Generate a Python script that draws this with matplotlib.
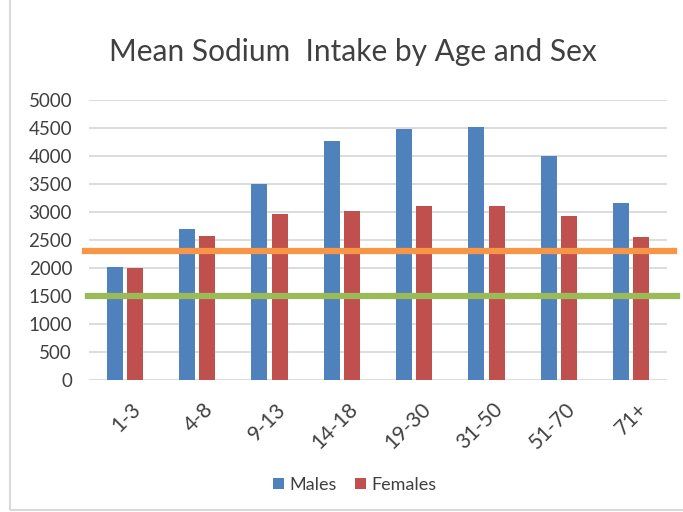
import matplotlib
matplotlib.use('Agg')
import matplotlib.pyplot as plt
import matplotlib.patches as patches
import matplotlib.transforms as mtransforms
import numpy as np

# Mean sodium intake (mg/day)
age_groups = ['1-3', '4-8', '9-13', '14-18', '19-30', '31-50', '51-70', '71+']
males = [2020, 2690, 3490, 4270, 4480, 4510, 4000, 3160]
females = [1995, 2575, 2960, 3020, 3105, 3105, 2920, 2555]
upper_limit = 2300   # orange reference line
adequate_intake = 1500  # green reference line

plt.rcParams['font.family'] = ['Lato', 'DejaVu Sans']

fig = plt.figure(figsize=(6.83, 5.12), dpi=100)
ax = fig.add_axes([0.130, 0.258, 0.847, 0.547])

x = np.arange(len(age_groups))
w = 0.22
ax.bar(x - 0.14, males, w, color='#4F81BD', label='Males', zorder=3)
ax.bar(x + 0.14, females, w, color='#C0504D', label='Females', zorder=3)

ax.set_xlim(-0.5, len(age_groups) - 0.5)
ax.set_ylim(0, 5000)
ax.set_yticks(range(0, 5001, 500))
ax.yaxis.grid(True, color='#D9D9D9', linewidth=1.3, zorder=0)
ax.set_axisbelow(True)
for s in ax.spines.values():
    s.set_visible(False)
ax.tick_params(axis='y', length=0, labelsize=13.5, labelcolor='#404040', pad=12)
ax.tick_params(axis='x', length=0, labelsize=15, labelcolor='#404040', pad=14)
ax.set_xticks(x)
ax.set_xticklabels(age_groups, rotation=45, ha='right', rotation_mode='anchor')
shift = mtransforms.ScaledTranslation(6 / 100, 0, fig.dpi_scale_trans)
for lbl in ax.get_xticklabels():
    lbl.set_transform(lbl.get_transform() + shift)

# reference lines drawn a bit past the plot area like the original shapes
trans = ax.get_yaxis_transform()
ax.plot([-0.006, 1.012], [upper_limit, upper_limit], transform=trans,
        color='#F79646', linewidth=4.5, clip_on=False, zorder=4)
ax.plot([-0.002, 1.017], [adequate_intake, adequate_intake], transform=trans,
        color='#9BBB59', linewidth=4.5, clip_on=False, zorder=4)

fig.text(0.517, 0.898, 'Mean Sodium  Intake by Age and Sex', ha='center', va='center',
         fontsize=21.5, color='#404040')

ax.legend(loc='center', bbox_to_anchor=(0.46, -0.375), ncol=2, frameon=False,
          fontsize=13, handlelength=0.6, handleheight=0.6, handletextpad=0.3,
          columnspacing=1.0, labelcolor='#404040')

fig.patches.append(patches.Rectangle((0.0146, 0.003), 1.2, 1.2, transform=fig.transFigure,
                                     fill=False, edgecolor='#D9D9D9', linewidth=1.5))

fig.savefig('out.png', dpi=100)
